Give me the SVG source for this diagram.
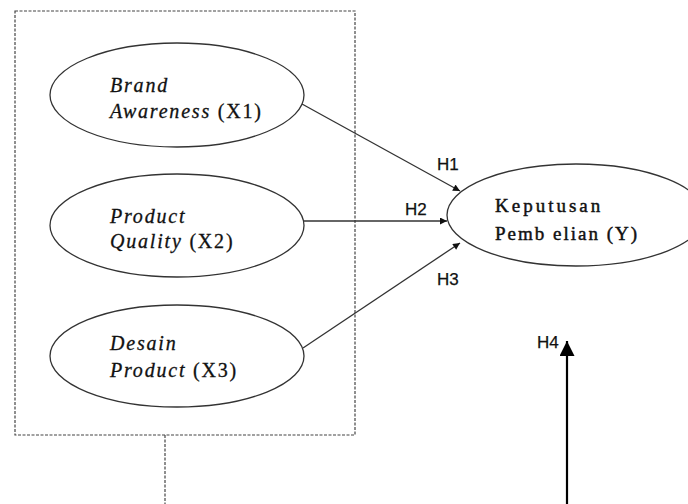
<svg xmlns="http://www.w3.org/2000/svg" width="688" height="504" viewBox="0 0 688 504">
<style>
.el{fill:#fff;stroke:#333;stroke-width:1.3}
.t{font-family:"Liberation Serif","Times New Roman",serif;font-size:20px;fill:#111;letter-spacing:1.8px;stroke:#111;stroke-width:0.3}
.i{font-style:italic}
.y{font-family:"Liberation Serif","Times New Roman",serif;font-size:19px;fill:#111;letter-spacing:3px;stroke:#111;stroke-width:0.45}
.y2{letter-spacing:2px}
.h{font-family:"Liberation Sans",Arial,sans-serif;font-size:17px;fill:#111;stroke:#111;stroke-width:0.25}
.dash{fill:none;stroke:#444;stroke-width:1.2;stroke-dasharray:3 1.5}
.c{stroke:#333;stroke-width:1.3;fill:none}
</style>
<defs>
<marker id="ah" viewBox="0 0 10 10" refX="10" refY="5" markerWidth="9" markerHeight="7" markerUnits="userSpaceOnUse" orient="auto">
<path d="M0,0 L10,5 L0,10 z" fill="#111"/>
</marker>
<marker id="ab" viewBox="0 0 10 10" refX="10" refY="5" markerWidth="15" markerHeight="15" markerUnits="userSpaceOnUse" orient="auto">
<path d="M0,0 L10,5 L0,10 z" fill="#000"/>
</marker>
</defs>
<rect width="688" height="504" fill="#fff"/>
<g id="frame">
<rect class="dash" x="15" y="11" width="340" height="424"/>
<line class="dash" x1="165" y1="435" x2="165" y2="504"/>
</g>
<g id="connectors">
<line class="c" x1="302" y1="104" x2="460" y2="191" marker-end="url(#ah)"/>
<line class="c" x1="303" y1="221" x2="447" y2="221" marker-end="url(#ah)"/>
<line class="c" x1="303" y1="348" x2="460" y2="243" marker-end="url(#ah)"/>
<line x1="567" y1="504" x2="567" y2="341" stroke="#000" stroke-width="2.2" marker-end="url(#ab)"/>
<text class="h" x="437" y="170">H1</text>
<text class="h" x="405" y="215">H2</text>
<text class="h" x="437" y="285">H3</text>
<text class="h" x="537" y="348">H4</text>
</g>
<g id="x1">
<ellipse class="el" cx="177" cy="95" rx="127" ry="52"/>
<text class="t" x="110" y="92"><tspan class="i">Brand</tspan></text>
<text class="t" x="110" y="118"><tspan class="i">Awareness</tspan> (X1)</text>
</g>
<g id="x2">
<ellipse class="el" cx="177" cy="225.5" rx="127" ry="51.5"/>
<text class="t" x="110" y="223"><tspan class="i">Product</tspan></text>
<text class="t" x="110" y="248"><tspan class="i">Quality</tspan> (X2)</text>
</g>
<g id="x3">
<ellipse class="el" cx="177" cy="356" rx="127" ry="51"/>
<text class="t" x="110" y="350"><tspan class="i">Desain</tspan></text>
<text class="t" x="110" y="377"><tspan class="i">Product</tspan> (X3)</text>
</g>
<g id="y">
<ellipse class="el" cx="576" cy="215" rx="129" ry="51"/>
<text class="y" x="495" y="212">Keputusan</text>
<text class="y y2" x="495" y="240">Pemb elian (Y)</text>
</g>
</svg>
